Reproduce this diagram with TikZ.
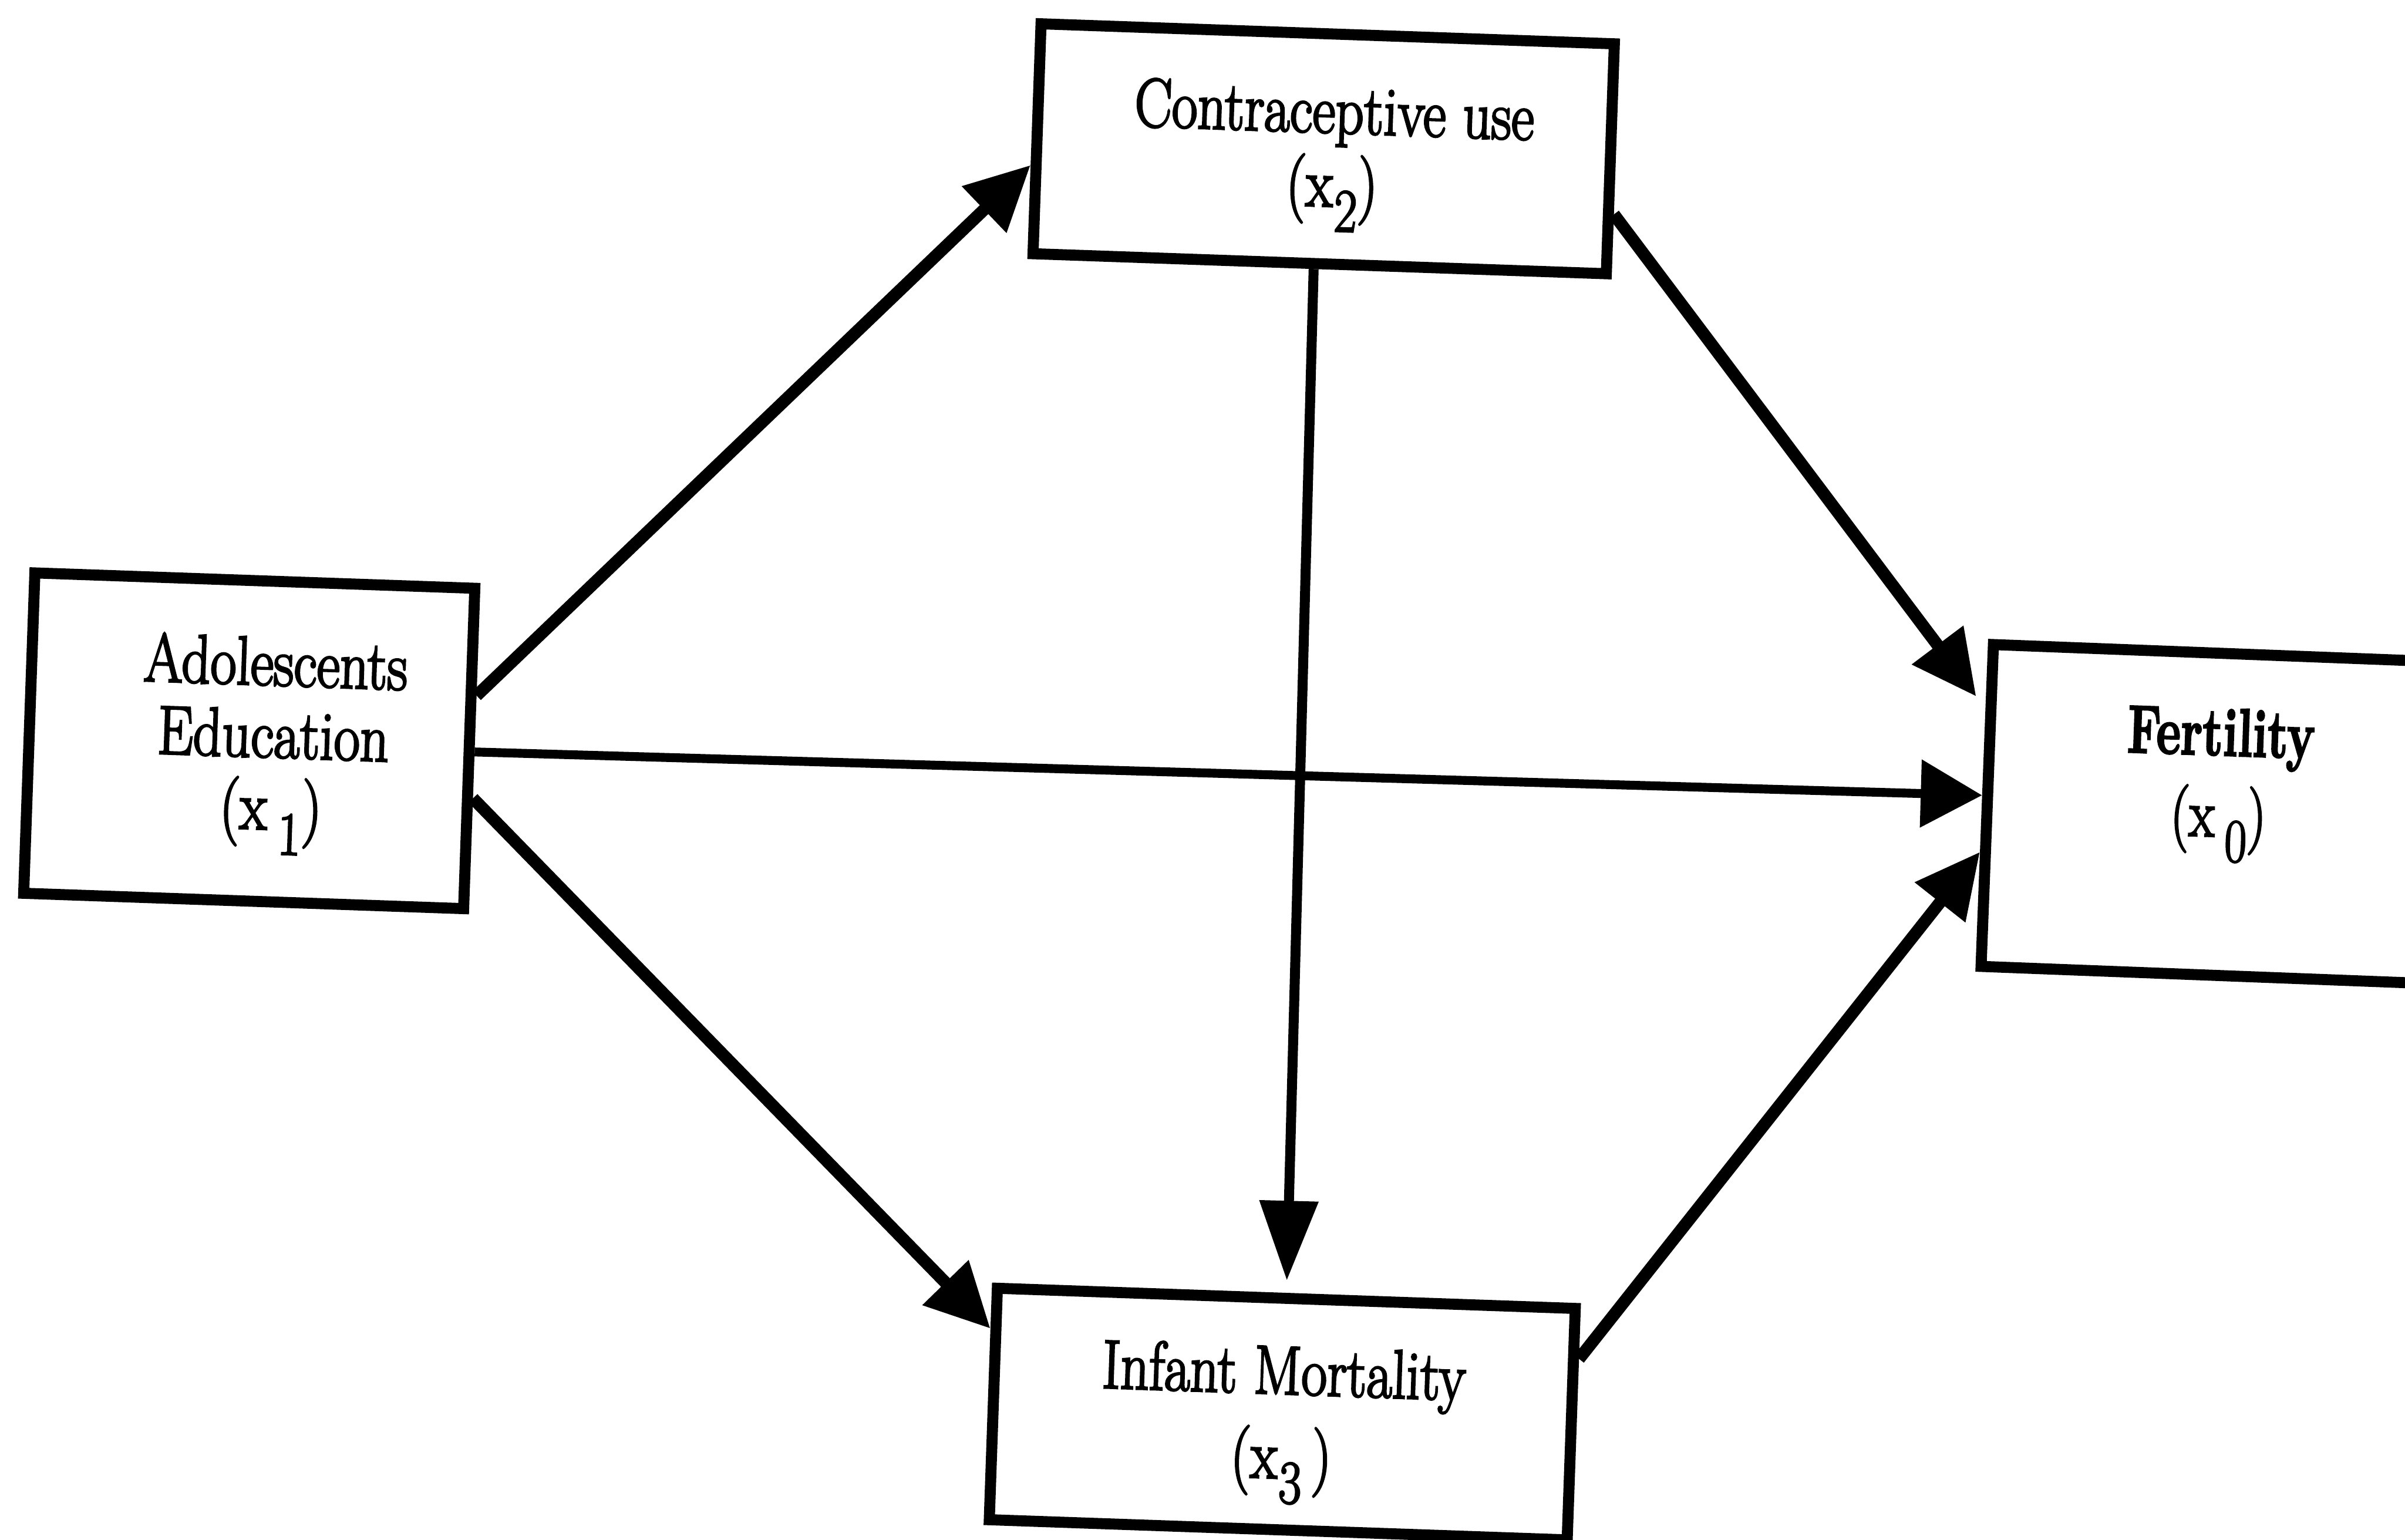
\documentclass[tikz,border=0pt]{standalone}
\usepackage{fontspec}
\usepackage{graphicx}
\newfontfamily\heavy{Latin Modern Roman}[FakeBold=3]
\usetikzlibrary{arrows.meta,calc}
\newcommand\subx[1]{\kern1.5pt\raisebox{-16pt}{\fontsize{40}{40}\selectfont #1}}
\newcommand\cnd[2]{\scalebox{#1}[1]{#2}}
\begin{document}
\begin{tikzpicture}[x=1pt,y=-1pt,
  box/.style={draw, line width=7.2pt, rectangle, inner sep=0pt},
  txt/.style={align=center, inner sep=0pt},
  link/.style={line width=8pt, -{Triangle[length=42pt,width=40pt]}},
  hlink/.style={line width=5.8pt, -{Triangle[length=40pt,width=43pt]}},
  vlink/.style={line width=6.5pt, -{Triangle[length=52pt,width=37pt]}},
]
\fill[white] (0,0) rectangle (1568,1004);
\useasboundingbox (0,0) rectangle (1568,1004);
\clip (0,0) rectangle (1568,1004);

% boxes
\node[box, rotate=-2, minimum width=287pt, minimum height=209pt] (b1) at (162.5,483) {};
\node[box, rotate=-2, minimum width=374pt, minimum height=150pt] (b2) at (863,97) {};
\node[box, rotate=-2, minimum width=377pt, minimum height=151pt] (b3) at (836,922) {};
\node[box, rotate=-2.2, minimum width=303pt, minimum height=210pt] (b4) at (1447,531) {};

% texts
\node[txt, rotate=-2, font=\heavy\fontsize{45}{47}\selectfont] (t1) at (178,486)
  {\cnd{0.82}{Adolescents}\\\cnd{0.82}{Education}\\\cnd{0.82}{(x\,\subx{1})}};
\node[txt, rotate=-2, font=\heavy\fontsize{45}{48}\selectfont] (t2) at (869,103)
  {\cnd{0.81}{Contraceptive use}\\\cnd{0.81}{(x\subx{2})}};
\node[txt, rotate=-2, font=\heavy\fontsize{45}{55}\selectfont] (t3) at (836,929)
  {\cnd{0.81}{Infant Mortality}\\\cnd{0.81}{(x\subx{3}\,)}};
\node[txt, rotate=-2, font=\heavy\fontsize{44}{53}\selectfont] (t4) at (1447,512)
  {\cnd{0.7}{\bfseries Fertility}\\\cnd{0.78}{(x\,\subx{0})}};

% connectors
\draw[link] ($(b1.north east)!0.34!(b1.south east)$) -- ($(b2.north west)!0.61!(b2.south west)$);
\draw[hlink] ($(b1.north east)!0.51!(b1.south east)$) -- ($(b4.north west)!0.47!(b4.south west)$);
\draw[link] ($(b1.north east)!0.65!(b1.south east)$) -- ($(b3.north west)!0.19!(b3.south west)$);
\draw[vlink, shorten >=8pt] ($(b2.south west)!0.49!(b2.south east)$) -- ($(b3.north west)!0.5!(b3.north east)$);
\draw[link, shorten >=10pt] ($(b2.north east)!0.73!(b2.south east)$) -- ($(b4.north west)!0.21!(b4.south west)$);
\draw[link] ($(b3.north east)!0.23!(b3.south east)$) -- ($(b4.north west)!0.64!(b4.south west)$);
\end{tikzpicture}
\end{document}
